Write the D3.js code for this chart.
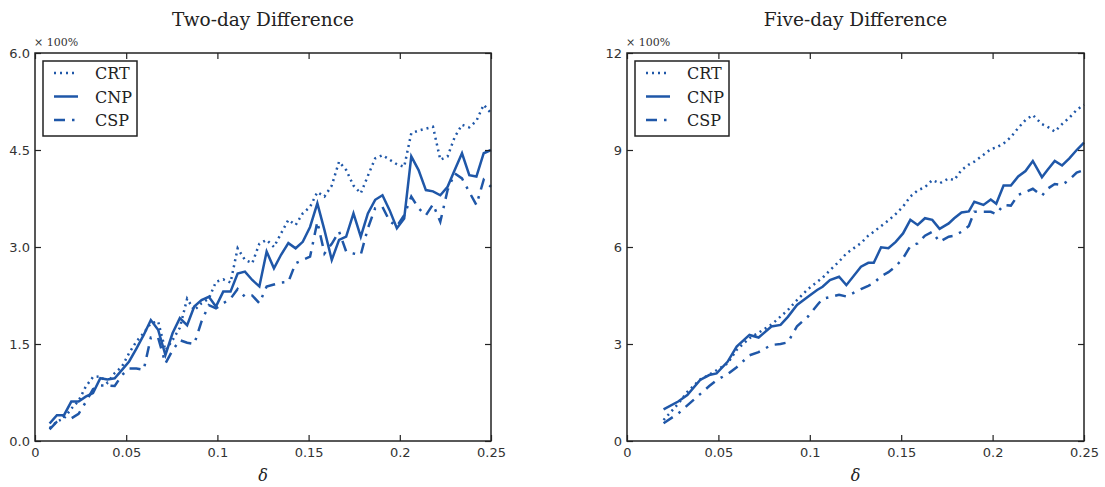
<!DOCTYPE html>
<html lang="en">
<head>
  <meta charset="UTF-8">
  <title>Two-day and Five-day Difference</title>
  <style>
    body, html { margin: 0; padding: 0; background: #fff; }
    svg { display: block; }
  </style>
</head>
<body>
  <svg id="svg" width="1105" height="487"></svg>

  <script src="https://d3js.org/d3.v7.min.js"></script>
  <script>
    // ---- data ----
    // two-day panel
    const deltaTwo = [0.0080, 0.0120, 0.0159, 0.0199, 0.0239, 0.0278, 0.0318, 0.0358, 0.0397, 0.0437,
      0.0477, 0.0516, 0.0556, 0.0596, 0.0635, 0.0675, 0.0715, 0.0754, 0.0794, 0.0834,
      0.0873, 0.0913, 0.0953, 0.0992, 0.1032, 0.1072, 0.1111, 0.1151, 0.1191, 0.1230,
      0.1270, 0.1310, 0.1349, 0.1389, 0.1429, 0.1468, 0.1508, 0.1548, 0.1587, 0.1627,
      0.1667, 0.1706, 0.1746, 0.1786, 0.1825, 0.1865, 0.1905, 0.1944, 0.1984, 0.2024,
      0.2063, 0.2103, 0.2143, 0.2182, 0.2222, 0.2262, 0.2301, 0.2341, 0.2381, 0.2420,
      0.2460, 0.2500]
    const crtTwo = [0.20, 0.30, 0.35, 0.50, 0.62, 0.84, 0.99, 1.00, 0.90, 1.05,
      1.15, 1.36, 1.54, 1.67, 1.82, 1.85, 1.40, 1.56, 1.75, 2.20,
      2.02, 2.13, 2.20, 2.46, 2.50, 2.45, 2.98, 2.80, 2.75, 3.05,
      3.11, 3.00, 3.21, 3.42, 3.34, 3.52, 3.62, 3.85, 3.78, 3.95,
      4.32, 4.19, 3.95, 3.83, 4.10, 4.37, 4.42, 4.35, 4.28, 4.24,
      4.76, 4.80, 4.83, 4.86, 4.35, 4.40, 4.70, 4.89, 4.85, 4.95,
      5.20, 5.07]
    const cnpTwo = [0.27, 0.40, 0.40, 0.61, 0.61, 0.685, 0.74, 0.97, 0.95, 0.97,
      1.10, 1.23, 1.43, 1.64, 1.87, 1.72, 1.33, 1.665, 1.90, 1.79,
      2.08, 2.18, 2.23, 2.08, 2.31, 2.31, 2.59, 2.62, 2.49, 2.39,
      2.93, 2.67, 2.88, 3.06, 2.98, 3.08, 3.31, 3.675, 3.26, 2.80,
      3.11, 3.16, 3.52, 3.16, 3.52, 3.73, 3.80, 3.57, 3.29, 3.44,
      4.40, 4.19, 3.88, 3.86, 3.80, 3.93, 4.19, 4.45, 4.11, 4.09,
      4.45, 4.50]
    const cspTwo = [0.18, 0.30, 0.38, 0.35, 0.42, 0.60, 0.80, 0.86, 0.86, 0.85,
      1.02, 1.12, 1.12, 1.10, 1.60, 1.60, 1.20, 1.40, 1.56, 1.52,
      1.50, 1.85, 2.10, 2.05, 2.13, 2.20, 2.35, 2.23, 2.25, 2.13,
      2.39, 2.42, 2.45, 2.46, 2.75, 2.80, 2.85, 3.39, 2.90, 3.05,
      3.24, 2.93, 2.90, 2.88, 3.29, 3.60, 3.62, 3.40, 3.32, 3.49,
      3.78, 3.60, 3.49, 3.66, 3.39, 3.88, 4.14, 4.06, 3.85, 3.65,
      4.04, 3.93]

    // five-day panel
    const deltaFive = [0.020, 0.028, 0.033, 0.040, 0.045, 0.049, 0.055, 0.060, 0.067, 0.072,
      0.079, 0.084, 0.088, 0.093, 0.099, 0.104, 0.107, 0.111, 0.116, 0.120,
      0.128, 0.132, 0.135, 0.139, 0.143, 0.147, 0.151, 0.155, 0.159, 0.163,
      0.167, 0.171, 0.176, 0.179, 0.183, 0.187, 0.190, 0.195, 0.199, 0.202,
      0.206, 0.210, 0.214, 0.218, 0.222, 0.227, 0.230, 0.234, 0.238, 0.242,
      0.246, 0.250]
    const crtFive = [0.65, 1.15, 1.52, 1.90, 2.05, 2.19, 2.40, 2.82, 3.18, 3.35,
      3.60, 3.85, 4.05, 4.36, 4.70, 4.92, 5.05, 5.28, 5.55, 5.80,
      6.12, 6.35, 6.47, 6.65, 6.82, 7.02, 7.25, 7.56, 7.75, 7.85,
      8.07, 7.97, 8.12, 8.07, 8.38, 8.55, 8.64, 8.85, 9.03, 9.08,
      9.20, 9.40, 9.68, 9.93, 10.08, 9.80, 9.72, 9.57, 9.80, 10.00,
      10.24, 10.40]
    const cnpFive = [0.98, 1.22, 1.42, 1.89, 2.04, 2.09, 2.45, 2.92, 3.28, 3.20,
      3.54, 3.59, 3.84, 4.21, 4.46, 4.67, 4.77, 4.98, 5.08, 4.82,
      5.39, 5.51, 5.51, 5.99, 5.96, 6.16, 6.42, 6.84, 6.68, 6.89,
      6.84, 6.56, 6.73, 6.89, 7.07, 7.10, 7.40, 7.30, 7.47, 7.34,
      7.90, 7.90, 8.18, 8.35, 8.66, 8.16, 8.38, 8.66, 8.52, 8.74,
      9.00, 9.23]
    const cspFive = [0.55, 0.85, 1.10, 1.45, 1.70, 1.88, 2.07, 2.28, 2.65, 2.75,
      2.97, 3.00, 3.05, 3.55, 3.85, 4.20, 4.40, 4.45, 4.52, 4.47,
      4.70, 4.80, 4.88, 5.10, 5.22, 5.40, 5.65, 6.03, 6.11, 6.35,
      6.47, 6.16, 6.32, 6.35, 6.47, 6.65, 7.09, 7.09, 7.09, 7.02,
      7.30, 7.28, 7.61, 7.70, 7.80, 7.58, 7.80, 7.95, 7.92, 8.08,
      8.30, 8.38]

    const xTicks = [0, 0.05, 0.1, 0.15, 0.2, 0.25]
    const xTickLabels = ['0', '0.05', '0.1', '0.15', '0.2', '0.25']
    const yTicksTwo = [0, 1.5, 3.0, 4.5, 6.0]
    const yTicksFive = [0, 3, 6, 9, 12]
    const seriesNames = ['CRT', 'CNP', 'CSP']

    // ---- style ----
    const lineColor = '#1f57a8'
    const dashes = { CRT: '2,4', CNP: null, CSP: '11,7,2.5,7' }
    const axisColor = '#222'

    const svg = d3.select('#svg')

    const drawPanel = (opts) => {
      const { left, right, top, bottom } = opts
      const g = svg.append('g')

      const x = d3.scaleLinear().domain([0, 0.25]).range([left, right])
      const y = d3.scaleLinear().domain([0, opts.yMax]).range([bottom, top])

      // lines
      const line = d3.line()
        .x(d => x(d[0]))
        .y(d => y(d[1]))

      opts.series.forEach(s => {
        const pts = opts.delta.map((dx, i) => [dx, s.values[i]])
        g.append('path')
          .datum(pts)
          .attr('d', line)
          .attr('fill', 'none')
          .attr('stroke', lineColor)
          .attr('stroke-width', 2.5)
          .attr('stroke-linejoin', 'miter')
          .attr('stroke-dasharray', dashes[s.name])
      })

      // axes: ticks inside on all four sides
      const tickLen = 6
      const xb = d3.axisBottom(x).tickValues(xTicks).tickSizeInner(-tickLen).tickSizeOuter(0)
        .tickPadding(7).tickFormat((d, i) => xTickLabels[i])
      const xt = d3.axisTop(x).tickValues(xTicks).tickSizeInner(-tickLen).tickSizeOuter(0).tickFormat('')
      const yl = d3.axisLeft(y).tickValues(opts.yTicks).tickSizeInner(-tickLen).tickSizeOuter(0)
        .tickPadding(5).tickFormat((d, i) => opts.yTickLabels[i])
      const yr = d3.axisRight(y).tickValues(opts.yTicks).tickSizeInner(-tickLen).tickSizeOuter(0).tickFormat('')

      const axes = [
        g.append('g').attr('transform', `translate(0,${bottom})`).call(xb),
        g.append('g').attr('transform', `translate(0,${top})`).call(xt),
        g.append('g').attr('transform', `translate(${left},0)`).call(yl),
        g.append('g').attr('transform', `translate(${right},0)`).call(yr)
      ]
      axes.forEach(a => {
        a.select('.domain').remove()
        a.selectAll('line').attr('stroke', axisColor).attr('stroke-width', 1.2)
        a.selectAll('text')
          .attr('font-family', 'DejaVu Sans')
          .attr('font-size', 13)
          .attr('fill', '#333')
      })

      // frame
      g.append('rect')
        .attr('x', left).attr('y', top)
        .attr('width', right - left).attr('height', bottom - top)
        .attr('fill', 'none')
        .attr('stroke', axisColor)
        .attr('stroke-width', 1.5)

      // title
      g.append('text')
        .text(opts.title)
        .attr('x', (left + right) / 2)
        .attr('y', 26)
        .attr('text-anchor', 'middle')
        .attr('font-family', 'DejaVu Serif')
        .attr('font-size', 18.5)
        .attr('fill', '#222')

      // multiplier text
      g.append('text')
        .text('\u00d7 100%')
        .attr('x', left - 1)
        .attr('y', 46)
        .attr('font-family', 'DejaVu Serif')
        .attr('font-size', 11)
        .attr('fill', '#333')

      // x label
      g.append('text')
        .text('\u03b4')
        .attr('x', (left + right) / 2)
        .attr('y', 481)
        .attr('text-anchor', 'middle')
        .attr('font-family', 'DejaVu Serif')
        .attr('font-style', 'italic')
        .attr('font-size', 16)
        .attr('fill', '#222')

      // legend
      const lg = g.append('g').attr('transform', `translate(${left + 8},${top + 8})`)
      lg.append('rect')
        .attr('width', 94).attr('height', 75)
        .attr('fill', 'white')
        .attr('stroke', axisColor)
        .attr('stroke-width', 1.5)
      seriesNames.forEach((name, i) => {
        const cy = 12 + i * 23.5
        lg.append('line')
          .attr('x1', 11).attr('x2', 35)
          .attr('y1', cy).attr('y2', cy)
          .attr('stroke', lineColor)
          .attr('stroke-width', 2.5)
          .attr('stroke-dasharray', dashes[name])
        lg.append('text')
          .text(name)
          .attr('x', 52)
          .attr('y', cy + 6)
          .attr('font-family', 'DejaVu Serif')
          .attr('font-size', 16)
          .attr('fill', '#222')
      })
    }

    drawPanel({
      title: 'Two-day Difference',
      left: 35, right: 491, top: 53, bottom: 441,
      yMax: 6, yTicks: yTicksTwo, yTickLabels: ['0.0', '1.5', '3.0', '4.5', '6.0'],
      delta: deltaTwo,
      series: [
        { name: 'CRT', values: crtTwo },
        { name: 'CNP', values: cnpTwo },
        { name: 'CSP', values: cspTwo }
      ]
    })

    drawPanel({
      title: 'Five-day Difference',
      left: 627, right: 1084, top: 53, bottom: 441,
      yMax: 12, yTicks: yTicksFive, yTickLabels: ['0', '3', '6', '9', '12'],
      delta: deltaFive,
      series: [
        { name: 'CRT', values: crtFive },
        { name: 'CNP', values: cnpFive },
        { name: 'CSP', values: cspFive }
      ]
    })
  </script>
</body>
</html>
